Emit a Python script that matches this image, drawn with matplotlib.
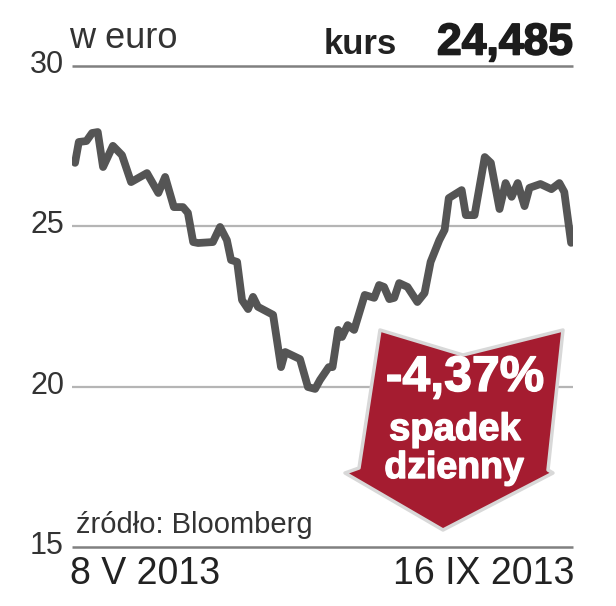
import matplotlib
matplotlib.use("Agg")
import matplotlib.pyplot as plt
import matplotlib.patheffects as pe
from matplotlib.patches import Polygon

# days since 8 V 2013
days = [0, 1, 3, 4.5, 6, 7.4, 10, 12.4, 14.8, 19, 22, 23.8, 26.1, 28.5, 29.8, 31.2, 32.5, 36.4,
        38.3, 40.1, 41.2, 42.8, 44.1, 45.7, 47, 48.3, 52.3, 54.4, 55.5, 59.4, 61.5, 63.4, 64.7,
        67, 68, 69.5, 70.5, 72, 73.7, 76.5, 79, 80.3, 81.6, 83, 84.3, 85.6, 87.8, 90.4, 92.3,
        93.9, 96.2, 97.6, 98.7, 102.1, 103.2, 105.5, 108.2, 109.8, 112.1, 113.7, 115.3, 116.9,
        118.7, 120, 122.9, 125.8, 127.9, 129.2, 131]
kurs = [26.98, 27.63, 27.66, 27.91, 27.94, 26.85, 27.51, 27.22, 26.38, 26.66, 26.04, 26.54, 25.60,
        25.60, 25.42, 24.51, 24.48, 24.51, 24.98, 24.57, 23.95, 23.89, 22.70, 22.42, 22.80, 22.49,
        22.24, 20.61, 21.08, 20.86, 19.99, 19.93, 20.21, 20.61, 20.61, 21.77, 21.55, 21.92, 21.77,
        22.86, 22.77, 23.17, 23.11, 22.73, 22.77, 23.23, 23.11, 22.64, 22.92, 23.89, 24.57, 24.89,
        25.88, 26.13, 25.35, 25.35, 27.16, 26.98, 25.54, 26.35, 25.92, 26.35, 25.63, 26.20, 26.32,
        26.16, 26.35, 26.07, 24.485]
y_ticks = [15, 20, 25, 30]

fig = plt.figure(figsize=(6.16, 6.06), dpi=100)
ax = fig.add_axes([72 / 616, 1 - 547 / 606, 501 / 616, 481 / 606])
ax.set_xlim(-0.8, 131.5)
ax.set_ylim(15, 30)
for s in ax.spines.values():
    s.set_visible(False)
ax.set_xticks([])
ax.set_yticks(y_ticks)
ax.set_yticklabels([])
ax.tick_params(length=0)
ax.hlines([20, 25], -0.8, 131.5, color="#b5b5b5", lw=1.6, zorder=1)
ax.hlines([15, 30], -0.8, 131.5, color="#808080", lw=1.8, zorder=1, clip_on=False)
ax.plot(days, kurs, color="#555555", lw=5.6, solid_joinstyle="round", solid_capstyle="round", zorder=2)

# warstwa w pikselach na napisy i strzalke
ov = fig.add_axes([0, 0, 1, 1])
ov.set_xlim(0, 616)
ov.set_ylim(606, 0)
ov.axis("off")
ov.patch.set_alpha(0)

sans = "Liberation Sans"
heavy_d = [pe.withStroke(linewidth=1.2, foreground="#1c1c1c")]
heavy_w = [pe.withStroke(linewidth=1.0, foreground="white")]
for t in y_ticks:
    py = 547 - (t - 15) * 32.07
    ov.text(64, py - 1, str(t), ha="right", va="center", fontsize=22, color="#333333", family=sans)
ov.text(69, 38, "w euro", ha="left", va="center", fontsize=26, color="#333333", family=sans)
ov.text(397, 44, "kurs", ha="right", va="center", fontsize=25, color="#222222", family=sans, weight="bold")
ov.text(573, 43, "24,485", ha="right", va="center", fontsize=32, color="#1c1c1c", family=sans, weight="bold",
        path_effects=heavy_d)
ov.text(76, 525, "źródło: Bloomberg", ha="left", va="center", fontsize=21, color="#333333", family=sans)
ov.text(70, 574, "8 V 2013", ha="left", va="center", fontsize=27, color="#222222", family=sans)
ov.text(574, 574, "16 IX 2013", ha="right", va="center", fontsize=27, color="#222222", family=sans)

arrow = [(380, 330), (463, 355), (563, 330), (548, 470), (553, 473), (443, 530), (345, 473), (359, 468)]
ov.add_patch(Polygon(arrow, closed=True, facecolor="#a51c30", edgecolor="#d8d8d8", lw=2.5, joinstyle="round", zorder=3))
ov.text(465, 378, "-4,37%", ha="center", va="center", fontsize=36, color="white", family=sans, weight="bold", zorder=4,
        path_effects=heavy_w)
ov.text(455, 430, "spadek", ha="center", va="center", fontsize=27.5, color="white", family=sans, weight="bold", zorder=4,
        path_effects=heavy_w)
ov.text(454, 468, "dzienny", ha="center", va="center", fontsize=27, color="white", family=sans, weight="bold", zorder=4,
        path_effects=heavy_w)

fig.savefig("out.png", dpi=100)
